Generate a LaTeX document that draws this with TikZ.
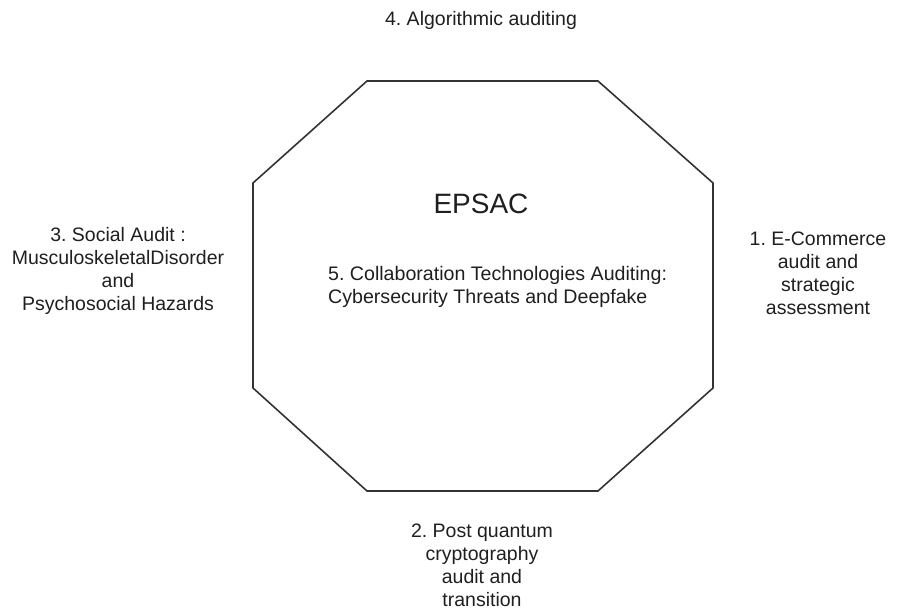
\documentclass[tikz,border=0pt]{standalone}
\usepackage{fontspec}
\setmainfont{Liberation Sans}
\frenchspacing
\begin{document}
\begin{tikzpicture}[x=1pt,y=-1pt,
  lbl/.style={align=center,font=\fontsize{19.5}{23}\selectfont,text=black!88,inner sep=0pt},
  oct/.style={draw=black!80,line width=1.6pt,line join=miter}]
\useasboundingbox (0,0) rectangle (902,610);
\coordinate (p1) at (367,81);
\coordinate (p2) at (598,81);
\coordinate (p3) at (713,183);
\coordinate (p4) at (713,388);
\coordinate (p5) at (598,491);
\coordinate (p6) at (367,491);
\coordinate (p7) at (253,388);
\coordinate (p8) at (253,183);
\draw[oct] (p1) -- (p2) -- (p3) -- (p4) -- (p5) -- (p6) -- (p7) -- (p8) -- cycle;
\node[lbl] (t4) at (481,20) {4. Algorithmic auditing};
\node[lbl,font=\fontsize{28}{32}\selectfont] (ep) at (481,204) {EPSAC};
\node[lbl,align=left,anchor=west,font=\fontsize{19.6}{22.5}\selectfont] (t5) at (328,287) {5. Collaboration Technologies Auditing:\\Cybersecurity Threats and Deepfake};
\node[lbl] (t3) at (118,271) {3. Social Audit :\\MusculoskeletalDisorder\\and\\Psychosocial Hazards};
\node[lbl] (t1) at (818,273) {1. E-Commerce\\audit and\\strategic\\assessment};
\node[lbl] (t2) at (482,565) {2. Post quantum\\cryptography\\audit and\\transition};
\end{tikzpicture}
\end{document}
